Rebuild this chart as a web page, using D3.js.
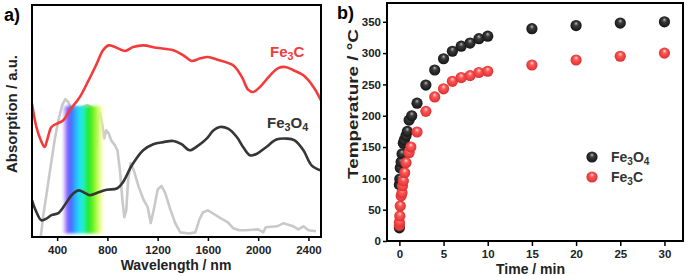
<!DOCTYPE html>
<html lang="en">
  <head>
    <meta charset="UTF-8" />
    <title>Absorption and photothermal heating</title>
    <script src="https://d3js.org/d3.v7.min.js"></script>
    <style>
      body {
        margin: 0;
        background: #fff;
        font-family: "Liberation Sans", Arial, sans-serif;
      }
      svg {
        display: block;
      }
      .tick text {
        font-weight: bold;
        fill: #222;
      }
      .tick line {
        stroke: #000;
        stroke-width: 1.5;
      }
      .domain {
        display: none;
      }
    </style>
  </head>
  <body>
    <svg id="chart" width="690" height="276"></svg>

    <script>
      // panel a: spectra (arbitrary units)
      const fe3cWl = [200, 235, 270, 300, 320, 355, 400, 450, 500, 580, 650, 715, 765, 810, 860, 940, 1005, 1085, 1190, 1325, 1405, 1470, 1535, 1600, 1670, 1800, 1870, 1920, 1960, 2015, 2095, 2160, 2215, 2280, 2360, 2440, 2500];
      const fe3cAbs = [57.5, 47.4, 41.7, 38.8, 41.7, 47.4, 48.9, 50.3, 54.6, 60.3, 67.5, 74.7, 80.5, 82.6, 81.9, 80.2, 81.9, 82.6, 81.6, 80.5, 78.3, 75.9, 76.9, 77.6, 76.5, 74.0, 69.0, 63.5, 62.5, 64.7, 69.7, 72.8, 73.3, 71.9, 69.7, 64.7, 58.9];

      const fe3o4Wl = [200, 235, 275, 315, 355, 410, 465, 515, 570, 620, 660, 715, 795, 875, 925, 995, 1085, 1165, 1245, 1325, 1390, 1455, 1525, 1590, 1645, 1695, 1760, 1830, 1880, 1935, 1990, 2065, 2145, 2225, 2290, 2360, 2425, 2500];
      const fe3o4Abs = [15.8, 10.8, 7.2, 7.9, 9.4, 10.3, 14.1, 18.0, 20.1, 19.0, 18.0, 19.0, 20.4, 20.9, 23.7, 30.9, 37.4, 40.0, 40.9, 41.4, 40.0, 37.4, 39.5, 42.4, 46.0, 47.4, 46.7, 43.1, 38.8, 35.2, 35.9, 38.8, 42.0, 42.4, 41.7, 37.4, 30.9, 28.7];

      const solarWl = [270, 290, 320, 350, 380, 410, 440, 465, 490, 510, 540, 570, 600, 640, 670, 700, 712, 718, 724, 740, 760, 775, 790, 810, 830, 860, 880, 900, 920, 935, 950, 965, 985, 1010, 1050, 1090, 1120, 1145, 1170, 1200, 1230, 1260, 1300, 1340, 1380, 1450, 1500, 1530, 1560, 1600, 1650, 1700, 1760, 1800, 1850, 1900, 2000, 2040, 2060, 2150, 2200, 2280, 2320, 2360, 2400, 2460];
      const solarIrr = [0.3, 9.4, 20.1, 30.9, 41.7, 50.3, 56.8, 59.4, 58.1, 55.5, 55.9, 55.5, 55.9, 56.8, 55.9, 54.6, 46.9, 39.5, 50.3, 53.7, 48.1, 42.5, 46.0, 44.7, 41.7, 39.5, 37.4, 28.7, 15.8, 8.5, 11.5, 24.4, 31.8, 28.7, 21.5, 15.8, 13.0, 6.0, 12.0, 20.5, 22.0, 19.0, 12.0, 6.0, 2.0, 1.5, 2.0, 7.2, 10.6, 11.5, 9.8, 8.1, 6.3, 3.8, 2.9, 2.9, 3.3, 2.0, 4.2, 4.6, 5.9, 4.6, 3.3, 4.6, 2.9, 2.5];

      // visible band (wavelength range and its top/bottom)
      const bandWl = [440, 780];
      const bandAbs = [1.5, 56.5];
      const bandStops = [
        [0, "#e6d2ff", 0],
        [0.06, "#c6a2ff", 0.9],
        [0.13, "#7b5cff", 1],
        [0.22, "#3f72ff", 1],
        [0.33, "#2bbcff", 1],
        [0.43, "#1fe6f2", 1],
        [0.52, "#22f0a0", 1],
        [0.62, "#1ee81e", 1],
        [0.76, "#86f52c", 1],
        [0.88, "#e2ff6a", 0.85],
        [1, "#ffffd0", 0],
      ];

      // panel b: temperature vs time
      const timeFe3o4 = [0, 0, 0.05, 0.1, 0.2, 0.3, 0.45, 0.55, 0.75, 0.9, 1.1, 1.4, 2, 3, 4, 5, 6, 7, 8, 9, 10, 15, 20, 25, 30];
      const tempFe3o4 = [21, 90, 99, 117, 126, 139, 156, 161, 168, 175, 193, 200, 220, 249, 273, 291, 303, 311, 316, 323, 327, 339, 344, 348, 350];
      const timeFe3c = [0, 0, 0.05, 0.1, 0.2, 0.3, 0.35, 0.45, 0.6, 0.75, 1.1, 1.3, 2, 3, 4, 5, 6, 7, 8, 9, 10, 15, 20, 25, 30];
      const tempFe3c = [25, 30, 40, 56, 72, 77, 88, 96, 109, 125, 141, 150, 174, 207, 230, 243, 255, 261, 264, 269, 271, 281, 289, 295, 300];

      const xTicksA = [400, 800, 1200, 1600, 2000, 2400];
      const xTicksB = [0, 5, 10, 15, 20, 25, 30];
      const yTicksB = [0, 50, 100, 150, 200, 250, 300, 350];

      const svg = d3.select("#chart");
      const defs = svg.append("defs");

      function zip(xs, ys) {
        return xs.map((x, i) => [x, ys[i]]);
      }

      function subText(sel, parts) {
        // parts: [text, isSub]; subscripts drop 3px and the next part comes back up
        let down = false;
        parts.forEach(([t, sub]) => {
          const ts = sel.append("tspan").text(t);
          if (sub) {
            ts.attr("font-size", "0.72em").attr("dy", 3);
            down = true;
          } else if (down) {
            ts.attr("dy", -3);
            down = false;
          }
        });
      }

      // ---------- panel a ----------
      const a = { left: 32, top: 5, width: 289, height: 232 };
      const gA = svg.append("g").attr("transform", `translate(${a.left},${a.top})`);

      const xA = d3.scaleLinear().domain([200, 2500]).range([0, a.width]);
      const yA = d3.scaleLinear().domain([0, 100]).range([a.height, 0]);

      const lineA = d3
        .line()
        .x((d) => xA(d[0]))
        .y((d) => yA(d[1]));

      gA.append("path")
        .datum(zip(solarWl, solarIrr))
        .attr("d", lineA.curve(d3.curveLinear))
        .attr("fill", "none")
        .attr("stroke", "#c9c9c9")
        .attr("stroke-width", 2.6)
        .attr("stroke-linejoin", "round");

      // rainbow band
      const grad = defs
        .append("linearGradient")
        .attr("id", "band")
        .attr("x1", "0%")
        .attr("x2", "100%");
      bandStops.forEach((s) => {
        grad
          .append("stop")
          .attr("offset", s[0])
          .attr("stop-color", s[1])
          .attr("stop-opacity", s[2]);
      });
      defs
        .append("filter")
        .attr("id", "soft")
        .attr("x", "-10%")
        .attr("y", "-10%")
        .attr("width", "120%")
        .attr("height", "120%")
        .append("feGaussianBlur")
        .attr("stdDeviation", 1.4);

      gA.append("rect")
        .attr("x", xA(bandWl[0]))
        .attr("width", xA(bandWl[1]) - xA(bandWl[0]))
        .attr("y", yA(bandAbs[1]))
        .attr("height", yA(bandAbs[0]) - yA(bandAbs[1]))
        .attr("rx", 3)
        .attr("fill", "url(#band)")
        .attr("filter", "url(#soft)");

      lineA.curve(d3.curveCatmullRom.alpha(0.5));

      gA.append("path")
        .datum(zip(fe3o4Wl, fe3o4Abs))
        .attr("d", lineA)
        .attr("fill", "none")
        .attr("stroke", "#363636")
        .attr("stroke-width", 2.6);

      gA.append("path")
        .datum(zip(fe3cWl, fe3cAbs))
        .attr("d", lineA)
        .attr("fill", "none")
        .attr("stroke", "#f43a3a")
        .attr("stroke-width", 2.6);

      gA.append("g")
        .attr("transform", `translate(0,${a.height})`)
        .call(
          d3.axisBottom(xA).tickValues(xTicksA).tickFormat(d3.format("d")).tickSize(4).tickPadding(5)
        )
        .call((g) => g.selectAll("text").attr("font-size", 11.5).attr("font-family", "Liberation Sans, Arial"));

      gA.append("rect")
        .attr("width", a.width)
        .attr("height", a.height)
        .attr("fill", "none")
        .attr("stroke", "#000")
        .attr("stroke-width", 2);

      const lblFe3c = gA
        .append("text")
        .attr("x", 238)
        .attr("y", 52)
        .attr("font-size", 15)
        .attr("font-weight", "bold")
        .attr("fill", "#f43a3a");
      subText(lblFe3c, [["Fe", false], ["3", true], ["C", false]]);

      const lblFe3o4 = gA
        .append("text")
        .attr("x", 235)
        .attr("y", 123)
        .attr("font-size", 15)
        .attr("font-weight", "bold")
        .attr("fill", "#333");
      subText(lblFe3o4, [["Fe", false], ["3", true], ["O", false], ["4", true]]);

      svg.append("text")
        .attr("x", 176)
        .attr("y", 270)
        .attr("text-anchor", "middle")
        .attr("font-size", 14)
        .attr("font-weight", "bold")
        .attr("fill", "#222")
        .text("Wavelength / nm");

      svg.append("text")
        .attr("transform", "translate(17,114) rotate(-90)")
        .attr("text-anchor", "middle")
        .attr("font-size", 14)
        .attr("font-weight", "bold")
        .attr("fill", "#222")
        .attr("textLength", 118)
        .attr("lengthAdjust", "spacingAndGlyphs")
        .text("Absorption / a.u.");

      svg.append("text")
        .attr("x", 4)
        .attr("y", 21)
        .attr("font-size", 18)
        .attr("font-weight", "bold")
        .text("a)");

      // ---------- panel b ----------
      const b = { left: 387, top: 3, width: 296, height: 238 };
      const gB = svg.append("g").attr("transform", `translate(${b.left},${b.top})`);

      const xB = d3.scaleLinear().domain([-1.4, 32.1]).range([0, b.width]);
      const yB = d3.scaleLinear().domain([0, 380]).range([b.height, 0]);

      function sphere(id, hi, mid, edge) {
        const g = defs
          .append("radialGradient")
          .attr("id", id)
          .attr("cx", "50%")
          .attr("cy", "50%")
          .attr("r", "55%")
          .attr("fx", "50%")
          .attr("fy", "28%");
        g.append("stop").attr("offset", 0).attr("stop-color", hi);
        g.append("stop").attr("offset", 0.35).attr("stop-color", mid);
        g.append("stop").attr("offset", 1).attr("stop-color", edge);
      }
      sphere("ballBlack", "#b8b8b8", "#3a3a3a", "#111");
      sphere("ballRed", "#ffe0e0", "#ff5656", "#d82c2c");

      const r = 5.6;

      gB.append("g")
        .selectAll("circle")
        .data(zip(timeFe3o4, tempFe3o4))
        .join("circle")
        .attr("cx", (d) => xB(d[0]))
        .attr("cy", (d) => yB(d[1]))
        .attr("r", r)
        .attr("fill", "url(#ballBlack)");

      gB.append("g")
        .selectAll("circle")
        .data(zip(timeFe3c, tempFe3c))
        .join("circle")
        .attr("cx", (d) => xB(d[0]))
        .attr("cy", (d) => yB(d[1]))
        .attr("r", r)
        .attr("fill", "url(#ballRed)");

      gB.append("g")
        .attr("transform", `translate(0,${b.height})`)
        .call(d3.axisBottom(xB).tickValues(xTicksB).tickSize(5).tickPadding(4))
        .call((g) => g.selectAll("text").attr("font-size", 11.5).attr("font-family", "Liberation Sans, Arial"));

      gB.append("g")
        .call(d3.axisLeft(yB).tickValues(yTicksB).tickSize(4).tickPadding(2))
        .call((g) => g.selectAll("text").attr("font-size", 11.5).attr("font-family", "Liberation Sans, Arial"));

      gB.append("rect")
        .attr("width", b.width)
        .attr("height", b.height)
        .attr("fill", "none")
        .attr("stroke", "#000")
        .attr("stroke-width", 2);

      // legend
      const legend = [
        ["ballBlack", [["Fe", false], ["3", true], ["O", false], ["4", true]]],
        ["ballRed", [["Fe", false], ["3", true], ["C", false]]],
      ];
      legend.forEach((item, i) => {
        const y = 154 + i * 20;
        gB.append("circle")
          .attr("cx", 205)
          .attr("cy", y)
          .attr("r", r)
          .attr("fill", `url(#${item[0]})`);
        const t = gB
          .append("text")
          .attr("x", 224)
          .attr("y", y + 5)
          .attr("font-size", 14)
          .attr("font-weight", "bold")
          .attr("fill", "#333");
        subText(t, item[1]);
      });

      svg.append("text")
        .attr("x", 530.5)
        .attr("y", 273.5)
        .attr("text-anchor", "middle")
        .attr("font-size", 14)
        .attr("font-weight", "bold")
        .attr("fill", "#222")
        .text("Time / min");

      svg.append("text")
        .attr("transform", "translate(358,104) rotate(-90)")
        .attr("text-anchor", "middle")
        .attr("font-size", 14.5)
        .attr("font-weight", "bold")
        .attr("fill", "#222")
        .attr("textLength", 150)
        .attr("lengthAdjust", "spacingAndGlyphs")
        .text("Temperature / °C");

      svg.append("text")
        .attr("x", 337)
        .attr("y", 19)
        .attr("font-size", 18)
        .attr("font-weight", "bold")
        .text("b)");
    </script>
  </body>
</html>
